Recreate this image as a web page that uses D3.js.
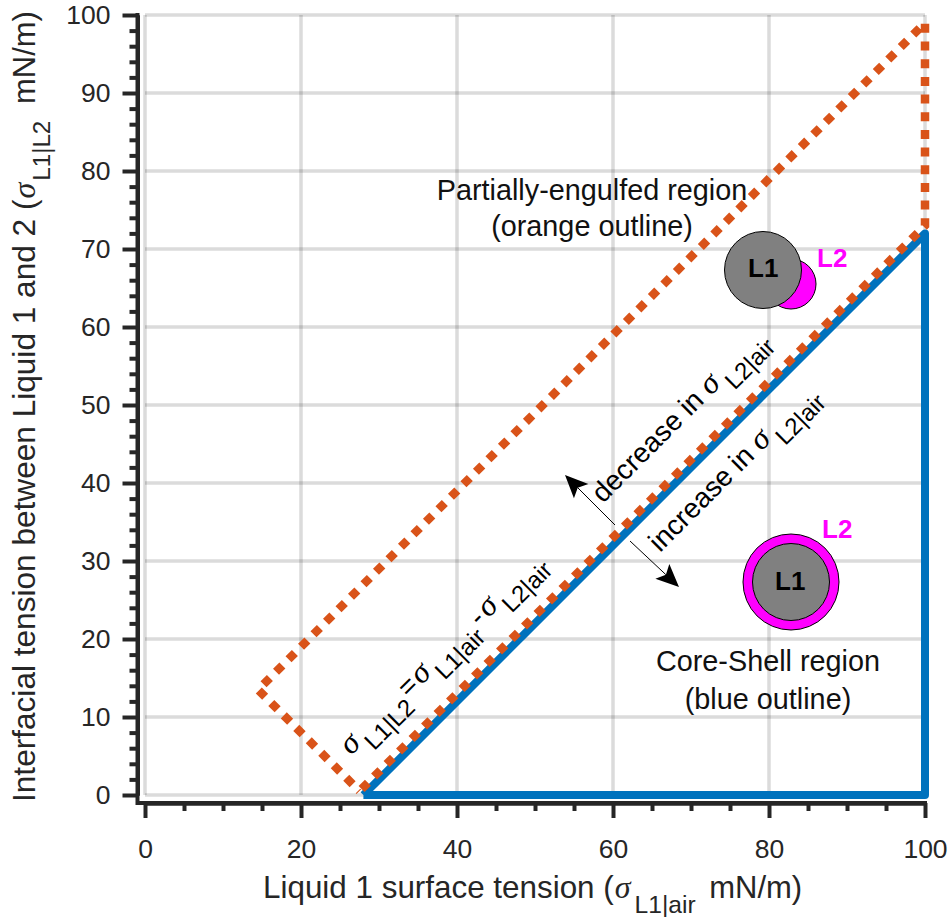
<!DOCTYPE html>
<html>
<head>
<meta charset="utf-8">
<script src="https://d3js.org/d3.v7.min.js"></script>
<style>
  html, body { margin: 0; padding: 0; background: #fff; }
  svg { display: block; }
  text { font-family: "Liberation Sans", Arial, sans-serif; }
</style>
</head>
<body>
<div id="chart"></div>
<script>
var xMajorTicks = [0, 20, 40, 60, 80, 100];
var xMinorTicks = [5, 10, 15, 25, 30, 35, 45, 50, 55, 65, 70, 75, 85, 90, 95];
var yMajorTicks = [0, 10, 20, 30, 40, 50, 60, 70, 80, 90, 100];
var yMinorTicks = [2, 4, 6, 8, 12, 14, 16, 18, 22, 24, 26, 28, 32, 34, 36, 38, 42, 44, 46, 48,
                   52, 54, 56, 58, 62, 64, 66, 68, 72, 74, 76, 78, 82, 84, 86, 88, 92, 94, 96, 98];

// region outlines, liquid 1 surface tension / interfacial tension
var blueX = [28, 100, 100, 28];
var blueY = [0, 0, 72, 0];
var orangeX = [27.5, 100, 100, 14.5, 27.5];
var orangeY = [0.5, 73, 99, 13.5, 0.5];

var width = 952, height = 917;
var x = d3.scaleLinear().domain([0, 100]).range([145, 925]);
var y = d3.scaleLinear().domain([0, 100]).range([795, 15]);
var spineX = 137.5, spineY = 803;
var ink = '#262626';

var svg = d3.select('#chart').append('svg').attr('width', width).attr('height', height);

// Grid
svg.selectAll('.gridx').data(xMajorTicks).enter().append('line')
   .attr('x1', function(d) { return x(d); }).attr('x2', function(d) { return x(d); })
   .attr('y1', y(0)).attr('y2', y(100))
   .attr('stroke', '#000').attr('stroke-opacity', 0.14).attr('stroke-width', 3.5);
svg.selectAll('.gridy').data(yMajorTicks).enter().append('line')
   .attr('y1', function(d) { return y(d); }).attr('y2', function(d) { return y(d); })
   .attr('x1', x(0)).attr('x2', x(100))
   .attr('stroke', '#000').attr('stroke-opacity', 0.14).attr('stroke-width', 3.5);

// Axes, minor ticks first so the major ones sit on top
function styleAxis(g) {
   g.selectAll('text').attr('fill', ink).attr('font-size', 26.5)
    .attr('font-family', '"Liberation Sans", Arial, sans-serif');
   g.selectAll('line').attr('stroke', ink).attr('stroke-width', 4);
   g.selectAll('.domain').attr('stroke', ink).attr('stroke-width', 4);
}
var xAxisMinor = d3.axisBottom(x).tickValues(xMinorTicks).tickSize(8).tickFormat('').tickSizeOuter(0);
var xAxisMajor = d3.axisBottom(x).tickValues(xMajorTicks).tickSize(15).tickPadding(21).tickSizeOuter(0);
var yAxisMinor = d3.axisLeft(y).tickValues(yMinorTicks).tickSize(8).tickFormat('').tickSizeOuter(0);
var yAxisMajor = d3.axisLeft(y).tickValues(yMajorTicks).tickSize(15).tickPadding(12).tickSizeOuter(0);

svg.append('g').attr('transform', 'translate(0,' + spineY + ')').call(xAxisMinor).call(styleAxis);
svg.append('g').attr('transform', 'translate(0,' + spineY + ')').call(xAxisMajor).call(styleAxis);
svg.append('g').attr('transform', 'translate(' + spineX + ',0)').call(yAxisMinor).call(styleAxis);
svg.append('g').attr('transform', 'translate(' + spineX + ',0)').call(yAxisMajor).call(styleAxis);

// Spines run on to the corner and the ends of the scales
svg.append('path').attr('fill', 'none').attr('stroke', ink).attr('stroke-width', 4)
   .attr('d', 'M' + spineX + ',' + (y(100) - 2) + 'V' + spineY + 'H' + (x(100) + 2));

// Outlines
var line = d3.line()
   .x(function(d) { return x(d[0]); })
   .y(function(d) { return y(d[1]); });

svg.append('path').datum(d3.zip(blueX, blueY)).attr('d', line)
   .attr('fill', 'none').attr('stroke', '#0072BD').attr('stroke-width', 8)
   .attr('stroke-linejoin', 'round');
svg.append('path').datum(d3.zip(orangeX, orangeY)).attr('d', line)
   .attr('fill', 'none').attr('stroke', '#D95319').attr('stroke-width', 8.5)
   .attr('stroke-dasharray', '9 8.67').attr('stroke-dashoffset', 14.72);

// Mixed text: plain runs, a greek sigma and subscripts
function richText(parent, px, py, angle, size, runs) {
   var t = parent.append('text')
      .attr('transform', 'translate(' + px + ',' + py + ') rotate(' + angle + ')')
      .attr('font-size', size);
   runs.forEach(function(r) {
      var s = t.append('tspan').text(r.text).attr('dy', r.dy || 0).attr('dx', r.dx || 0);
      s.style('white-space', 'pre');
      if (r.sigma) s.attr('font-family', '"Liberation Serif", serif').attr('font-style', 'italic');
      if (r.size) s.attr('font-size', r.size);
   });
   return t;
}

richText(svg, 263, 898, 0, 31.4, [
   {text: 'Liquid 1 surface tension ('},
   {text: 'σ', sigma: true, size: 32, dx: 1},
   {text: 'L1|air', size: 24.6, dy: 15, dx: 4},
   {text: ' mN/m)', dy: -15, size: 31, dx: 5}
]).attr('fill', ink);

richText(svg, 35, 802, -90, 31.6, [
   {text: 'Interfacial tension between Liquid 1 and 2 ('},
   {text: 'σ', sigma: true, size: 32, dx: 1},
   {text: 'L1|L2', size: 24.2, dy: 15, dx: 2},
   {text: ' mN/m)', dy: -15, size: 31, dx: 8}
]).attr('fill', ink);

richText(svg, 351, 756, -45, 28, [
   {text: 'σ', sigma: true, size: 32},
   {text: 'L1|L2', size: 24, dy: 13, dx: 4},
   {text: '=', dy: -13, dx: 2},
   {text: 'σ', sigma: true, size: 32, dx: 2},
   {text: 'L1|air', size: 24, dy: 13, dx: 4},
   {text: '-', dy: -13, dx: 3},
   {text: 'σ', sigma: true, size: 32, dx: 3},
   {text: 'L2|air', size: 24, dy: 13, dx: 4}
]);
richText(svg, 603, 504, -45, 28, [
   {text: 'decrease in '},
   {text: 'σ', sigma: true, size: 32},
   {text: 'L2|air', size: 24, dy: 13, dx: 5}
]);
richText(svg, 660, 553, -45, 28, [
   {text: 'increase in '},
   {text: 'σ', sigma: true, size: 32},
   {text: 'L2|air', size: 24, dy: 13, dx: 5}
]);

// Region captions
function caption(px, py, txt) {
   svg.append('text').attr('x', px).attr('y', py).attr('text-anchor', 'middle')
      .attr('font-size', 28.8).attr('fill', '#111').text(txt);
}
caption(592, 200, 'Partially-engulfed region');
caption(592, 236, '(orange outline)');
caption(768, 671, 'Core-Shell region');
caption(768, 709, '(blue outline)');

// Droplet sketches
function circle(cx, cy, r, fill) {
   svg.append('circle').attr('cx', cx).attr('cy', cy).attr('r', r)
      .attr('fill', fill).attr('stroke', '#000').attr('stroke-width', 1);
}
function label(px, py, txt, fill) {
   svg.append('text').attr('x', px).attr('y', py).attr('fill', fill)
      .attr('font-size', 26).attr('font-weight', 'bold').text(txt);
}
circle(791, 284, 25, '#FF00FF');
circle(763, 270, 38.5, '#808080');
label(748, 277, 'L1', '#000');
label(817, 267, 'L2', '#FF00FF');

circle(791, 582, 48, '#FF00FF');
circle(791, 582, 38.5, '#808080');
label(775, 590, 'L1', '#000');
label(822, 538, 'L2', '#FF00FF');

// Arrows with a swept-back head
function arrow(x0, y0, x1, y1) {
   var a = Math.atan2(y1 - y0, x1 - x0);
   var len = 25, back = 18, spread = 0.42;
   var p = function(r, t) { return (x1 - r * Math.cos(a + t)) + ',' + (y1 - r * Math.sin(a + t)); };
   svg.append('line').attr('x1', x0).attr('y1', y0)
      .attr('x2', x1 - back * Math.cos(a)).attr('y2', y1 - back * Math.sin(a))
      .attr('stroke', '#000').attr('stroke-width', 1);
   svg.append('path').attr('fill', '#000')
      .attr('d', 'M' + x1 + ',' + y1 + 'L' + p(len, spread) + 'L' + p(back, 0) + 'L' + p(len, -spread) + 'Z');
}
arrow(615, 525, 565, 475);
arrow(630, 541, 679, 587);
</script>
</body>
</html>
